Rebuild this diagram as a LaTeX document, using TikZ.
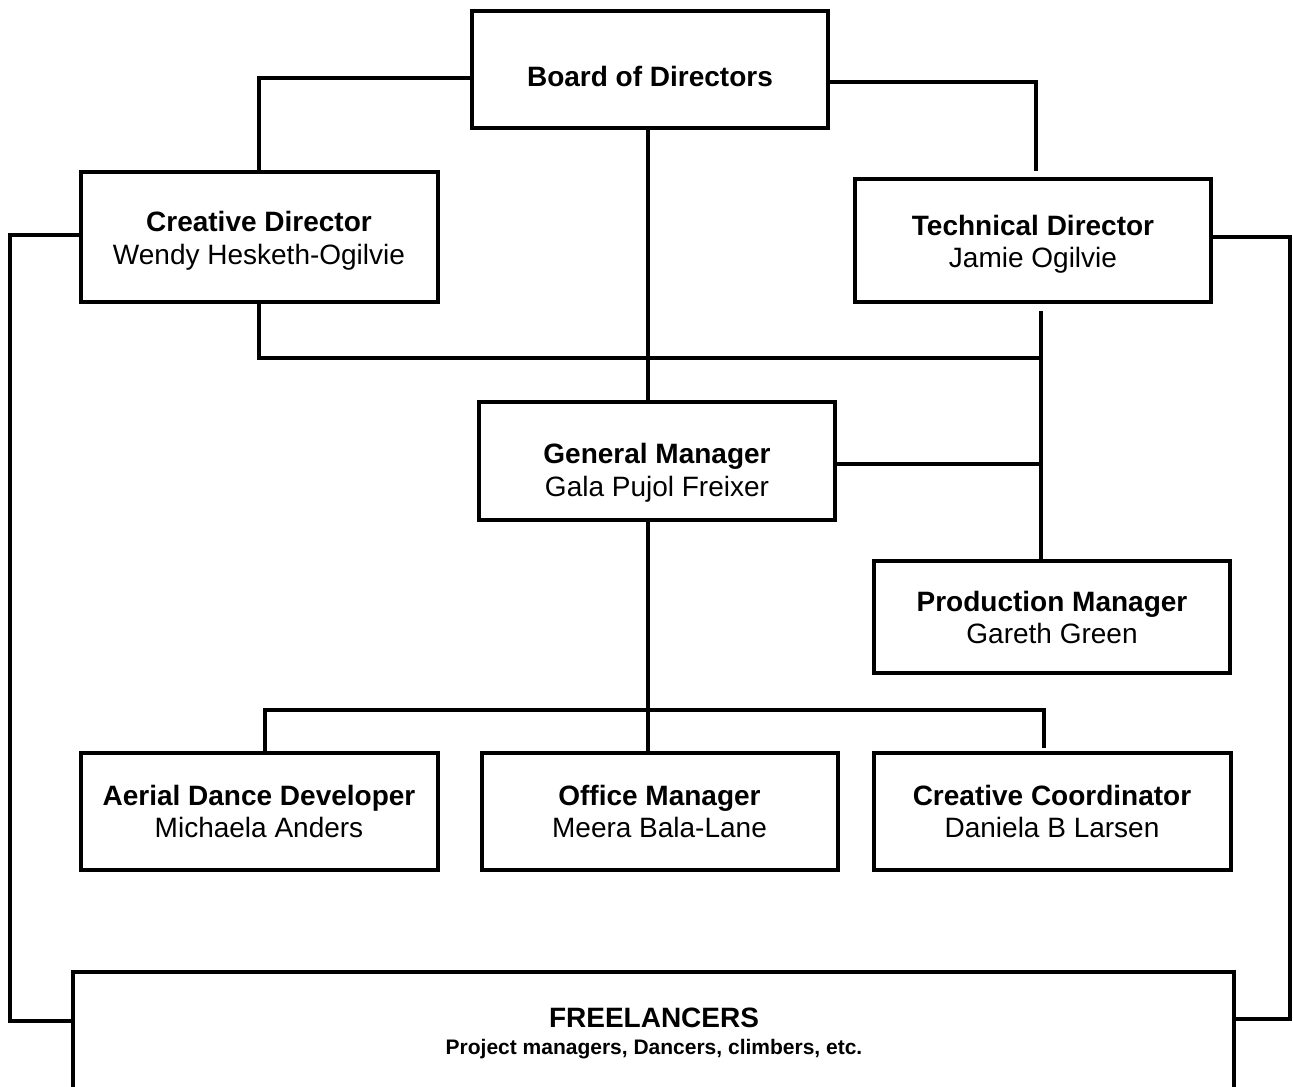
\documentclass[tikz,border=0pt]{standalone}
\usepackage{fontspec}
\setmainfont{Liberation Sans}
\begin{document}
\begin{tikzpicture}[x=0.5pt,y=-0.5pt,
  box/.style={draw=black, line width=2pt, rectangle, inner sep=0pt, outer sep=0pt},
  conn/.style={draw=black, line width=2pt},
  ttl/.style={anchor=base, inner sep=0pt, font=\fontsize{14}{16}\selectfont\bfseries},
  nm/.style={anchor=base, inner sep=0pt, font=\fontsize{14}{16}\selectfont},
  sm/.style={anchor=base, inner sep=0pt, font=\fontsize{10.5}{12}\selectfont\bfseries}]
\useasboundingbox (0,0) rectangle (1293,1086);
\clip (0,0) rectangle (1293,1086);

% boxes
\node[box, minimum width=178pt, minimum height=58pt] (bod) at (650,69.5) {};
\node[box, minimum width=178.5pt, minimum height=65.25pt] (cd) at (259,236.75) {};
\node[box, minimum width=178pt, minimum height=61.5pt] (td) at (1033,240.5) {};
\node[box, minimum width=178.25pt, minimum height=59pt] (gm) at (657,461) {};
\node[box, minimum width=177.75pt, minimum height=56pt] (pm) at (1052,617) {};
\node[box, minimum width=178.5pt, minimum height=58.5pt] (add) at (259,811.5) {};
\node[box, minimum width=178pt, minimum height=58.5pt] (om) at (659.5,811.5) {};
\node[box, minimum width=178.5pt, minimum height=58.5pt] (cc) at (1052,811.5) {};
\node[box, minimum width=580.5pt, minimum height=58.5pt] (fl) at (653.5,1030.5) {};

% texts
\node[ttl] (bodt) at (650,87) {Board of Directors};
\node[ttl] (cdt) at (259,231) {Creative Director};
\node[nm] (cdn) at (259,264) {Wendy Hesketh-Ogilvie};
\node[ttl] (tdt) at (1033,235) {Technical Director};
\node[nm] (tdn) at (1033,267) {Jamie Ogilvie};
\node[ttl] (gmt) at (657,463) {General Manager};
\node[nm] (gmn) at (657,496) {Gala Pujol Freixer};
\node[ttl] (pmt) at (1052,611) {Production Manager};
\node[nm] (pmn) at (1052,643) {Gareth Green};
\node[ttl] (addt) at (259,805) {Aerial Dance Developer};
\node[nm] (addn) at (259,837) {Michaela Anders};
\node[ttl] (omt) at (659.5,805) {Office Manager};
\node[nm] (omn) at (659.5,837) {Meera Bala-Lane};
\node[ttl] (cct) at (1052,805) {Creative Coordinator};
\node[nm] (ccn) at (1052,837) {Daniela B Larsen};
\node[ttl] (flt) at (654,1027) {FREELANCERS};
\node[sm] (fln) at (654,1054) {Project managers, Dancers, climbers, etc.};

% helper coordinates
\coordinate (tdin) at (1036,171);
\coordinate (tdout) at (1040.5,311);
\coordinate (lrail) at (9.5,0);
\coordinate (rrail) at (1290,0);
\coordinate (vx) at (648,0);
\coordinate (bl) at (264.7,709.7);
\coordinate (br) at (1043.5,709.7);
\coordinate (ccin) at (1043.5,747.5);

% connectors
\draw[conn] (bod.west |- 0,78) -| (cd.north);
\draw[conn] (bod.east |- 0,82.5) -| (tdin);
\draw[conn] (bod.south -| vx) -- (gm.north -| vx);
\draw[conn] (cd.west |- 0,235) -| (lrail |- 0,1021) -- (fl.west |- 0,1021);
\draw[conn] (td.east |- 0,237) -| (rrail |- 0,1019) -- (fl.east |- 0,1019);
\draw[conn] (cd.south) |- (tdout |- 0,358);
\draw[conn] (tdout) -- (tdout |- pm.north);
\draw[conn] (gm.east |- 0,463.7) -- (tdout |- 0,463.7);
\draw[conn] (gm.south -| vx) -- (om.north -| vx);
\draw[conn] (bl |- add.north) -- (bl) -- (br) -- (ccin);
\end{tikzpicture}
\end{document}
